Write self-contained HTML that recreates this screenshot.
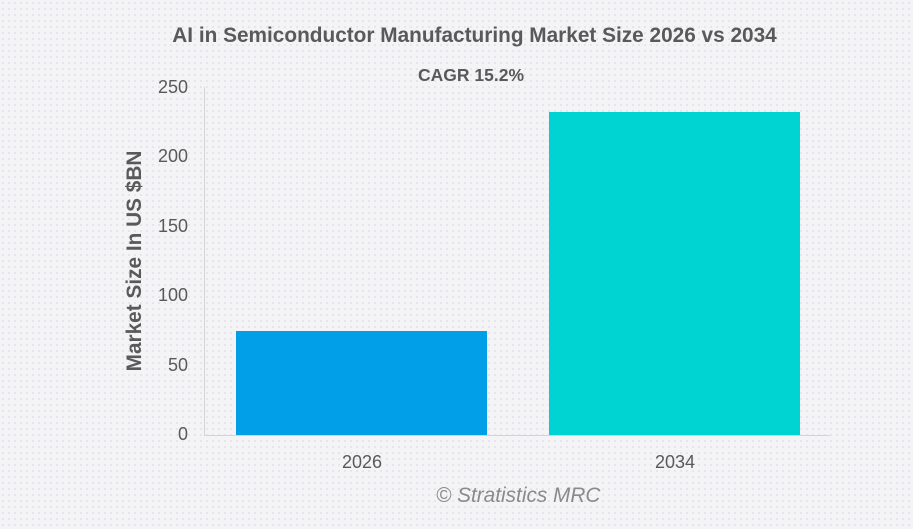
<!DOCTYPE html>
<html><head><style>
body{margin:0;width:913px;height:529px;overflow:hidden;background-color:#f4f4f6;background-image:radial-gradient(#e2e2e6 0.8px,transparent 1px);background-size:6px 6px;font-family:"Liberation Sans",sans-serif;}
.t{position:absolute;color:#595959;}
</style></head><body>
<div class="t" style="left:0;width:949px;top:24px;text-align:center;font-size:20.8px;font-weight:bold;">AI in Semiconductor Manufacturing Market Size 2026 vs 2034</div>
<div class="t" style="left:418px;top:65px;font-size:17.5px;font-weight:bold;">CAGR 15.2%</div>
<div style="position:absolute;left:204px;top:87px;width:1px;height:348px;background:#d4d4d4"></div>
<div style="position:absolute;left:204px;top:435px;width:626px;height:1px;background:#d4d4d4"></div>
<div class="t" style="right:725px;top:77px;font-size:18px">250</div>
<div class="t" style="right:725px;top:146px;font-size:18px">200</div>
<div class="t" style="right:725px;top:216px;font-size:18px">150</div>
<div class="t" style="right:725px;top:285px;font-size:18px">100</div>
<div class="t" style="right:725px;top:355px;font-size:18px">50</div>
<div class="t" style="right:725px;top:424px;font-size:18px">0</div>
<div style="position:absolute;left:236px;top:331px;width:251px;height:104px;background:#009fe8"></div>
<div style="position:absolute;left:549px;top:112px;width:251px;height:323px;background:#00d4d2"></div>
<div class="t" style="left:342px;top:452px;font-size:18px">2026</div>
<div class="t" style="left:655px;top:452px;font-size:18px">2034</div>
<div class="t" style="left:135px;top:261px;font-size:20.8px;font-weight:bold;transform:translate(-50%,-50%) rotate(-90deg);white-space:nowrap;">Market Size In US $BN</div>
<div class="t" style="left:436px;top:484px;font-size:20.8px;font-style:italic;color:#8a8a8a">© Stratistics MRC</div>
</body></html>
